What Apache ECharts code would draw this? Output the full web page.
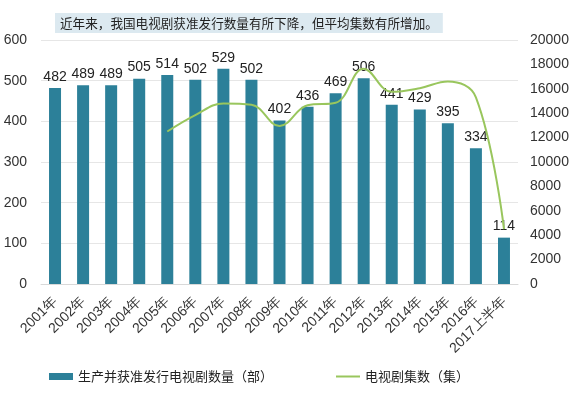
<!DOCTYPE html>
<html>
<head>
<meta charset="utf-8">
<script src="https://cdn.jsdelivr.net/npm/echarts@6/dist/echarts.min.js"></script>
<style>html,body{margin:0;padding:0;background:#fff}#c{width:572px;height:395px}</style>
</head>
<body>
<div id="c"></div>
<script>
const categories = ['2001年','2002年','2003年','2004年','2005年','2006年','2007年','2008年','2009年','2010年','2011年','2012年','2013年','2014年','2015年','2016年','2017上半年'];
const dramaCount = [482,489,489,505,514,502,529,502,402,436,469,506,441,429,395,334,114];
const episodeCount = [null,null,null,null,12500,13850,14800,14700,12950,14650,14850,17650,15750,16050,16600,15300,4500];
const leftTicks = {min:0, max:600, interval:100};
const rightTicks = {min:0, max:20000, interval:2000};
const titleText = '近年来，我国电视剧获准发行数量有所下降，但平均集数有所增加。';
const seriesNames = ['生产并获准发行电视剧数量（部）','电视剧集数（集）'];

const chart = echarts.init(document.getElementById('c'), null, {renderer:'canvas'});
const numFont = 'Liberation Sans, Arial, sans-serif';
const cjkFont = '"Noto Sans CJK SC", sans-serif';
chart.setOption({
  animation:false,
  title:{
    text:titleText, left:55, top:13,
    padding:[3,5,3,5],
    backgroundColor:'#dce9f0',
    textStyle:{fontSize:12.6, fontWeight:'normal', color:'#222', fontFamily:cjkFont, lineHeight:14}
  },
  legend:[{
    bottom:7, left:44, itemWidth:24, itemHeight:7,
    textStyle:{fontSize:13, color:'#222', fontFamily:cjkFont},
    data:[{name:seriesNames[0], icon:'rect'}]
  },{
    bottom:7, left:331, itemWidth:24, itemHeight:2,
    textStyle:{fontSize:13, color:'#222', fontFamily:cjkFont},
    data:[{name:seriesNames[1], icon:'rect'}]
  }],
  grid:{left:41, right:54, top:40, bottom:111},
  xAxis:{
    type:'category', data:categories,
    axisLine:{lineStyle:{color:'#d9d9d9'}},
    axisTick:{show:false},
    axisLabel:{rotate:45, interval:0, fontSize:14, color:'#333', fontFamily:numFont, margin:15}
  },
  yAxis:[
    {type:'value', min:leftTicks.min, max:leftTicks.max, interval:leftTicks.interval,
     axisLine:{show:false}, axisTick:{show:false},
     splitLine:{lineStyle:{color:'#e6e6e6'}},
     axisLabel:{fontSize:14, color:'#333', fontFamily:numFont, margin:14}},
    {type:'value', min:rightTicks.min, max:rightTicks.max, interval:rightTicks.interval,
     axisLine:{show:false}, axisTick:{show:false}, splitLine:{show:false},
     axisLabel:{fontSize:14, color:'#333', fontFamily:numFont, margin:12, formatter:function(v){return String(v);}}}
  ],
  series:[
    {name:seriesNames[0], type:'bar', data:dramaCount, barWidth:12,
     itemStyle:{color:'#2c8099'},
     label:{show:true, position:'top', distance:4, fontSize:14, color:'#222', fontFamily:numFont}},
    {name:seriesNames[1], type:'line', yAxisIndex:1, data:episodeCount, smooth:0.4,
     showSymbol:false, symbol:'none',
     lineStyle:{color:'#99c65d', width:2}, itemStyle:{color:'#99c65d'}}
  ]
});
</script>
</body>
</html>
